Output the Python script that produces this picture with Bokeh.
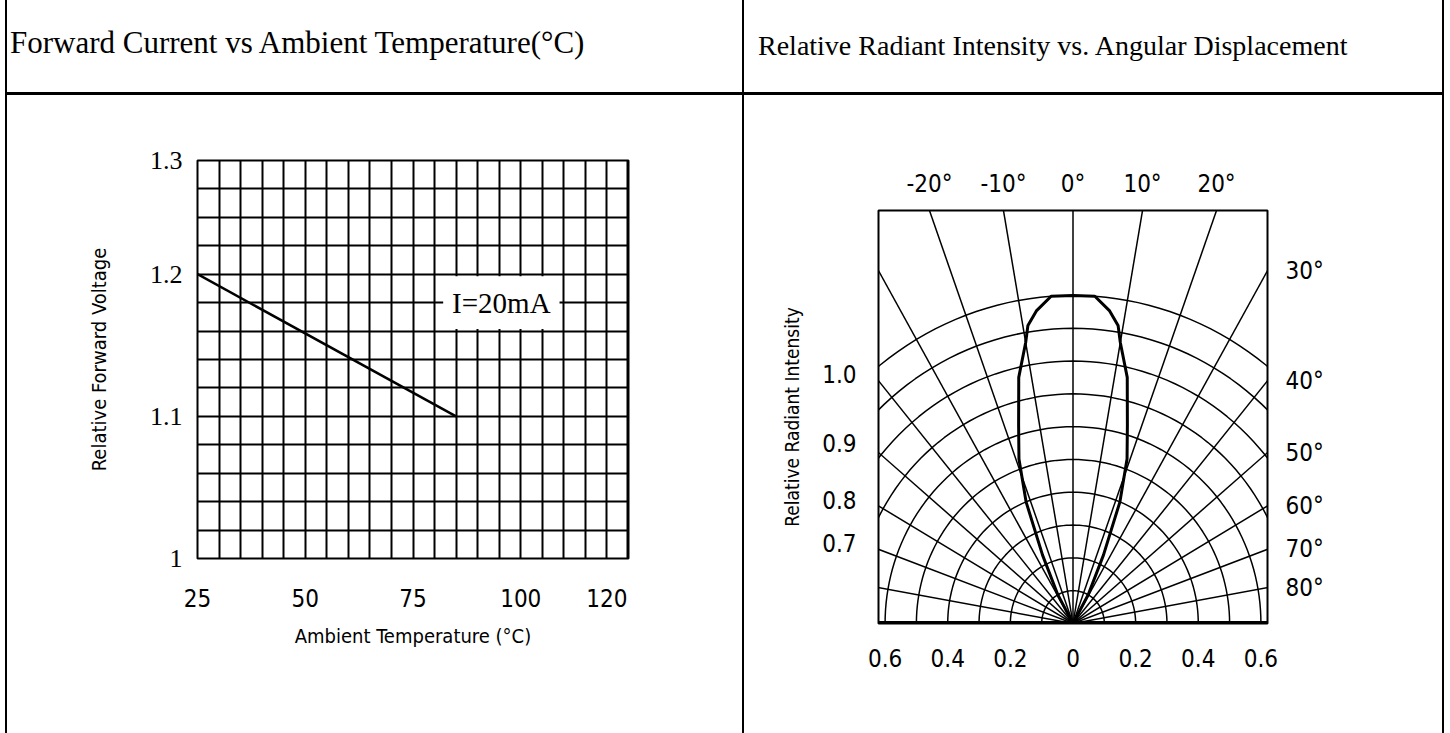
import math
from bokeh.plotting import figure
from bokeh.models import Range1d, FixedTicker, LinearAxis, Span, Div
from bokeh.layouts import row, column
from bokeh.embed import file_html
from bokeh.resources import INLINE
from bokeh.core.properties import value

# ---------------- data ----------------
header_left = "Forward Current vs Ambient Temperature(°C)"
header_right = "Relative Radiant Intensity vs. Angular Displacement"

# chart 1: relative forward voltage vs ambient temperature
temp_ticks = [25, 50, 75, 100, 120]
temp_min, temp_max, temp_step = 25, 125, 5
volt_ticks = [1.0, 1.1, 1.2, 1.28]
volt_labels = ["1", "1.1", "1.2", "1.3"]
volt_min, volt_max, volt_step = 1.0, 1.28, 0.02
line_temp = [25, 85]
line_volt = [1.2, 1.1]
note_text = "I=20mA"
note_temp = [82, 109]
note_volt = [1.1615, 1.1985]

# chart 2: relative radiant intensity vs angular displacement
pattern_angle = [0, 4, 7, 9, 10, 13, 16, 19, 22, 25, 29, 30]
pattern_intensity = [1.0, 1.0, 0.96, 0.92, 0.87, 0.77, 0.63, 0.53, 0.40, 0.23, 0.10, 0.0]
ring_radii = [0.1, 0.2, 0.3, 0.4, 0.5, 0.6, 0.7, 0.8, 0.9, 1.0]
ray_angles = list(range(-90, 91, 10))
top_angles = [-20, -10, 0, 10, 20]
side_angles = [30, 40, 50, 60, 70, 80]
intensity_tick_pos = [0.76, 0.55, 0.375, 0.245]
intensity_labels = ["1.0", "0.9", "0.8", "0.7"]
width_ticks = [-0.6, -0.4, -0.2, 0.0, 0.2, 0.4, 0.6]
x_half, y_top = 0.621, 1.259

SERIF = "Liberation Serif"
NARROW = "DejaVu Sans Condensed"


def style_axis(ax, size, standoff, font=NARROW):
    ax.axis_line_color = None
    ax.major_tick_line_color = None
    ax.minor_tick_line_color = None
    ax.major_tick_out = 0
    ax.major_tick_in = 0
    ax.minor_tick_out = 0
    ax.major_label_text_font = font
    ax.major_label_text_font_size = size
    ax.major_label_text_color = "black"
    ax.major_label_standoff = standoff
    ax.axis_label_text_font = NARROW
    ax.axis_label_text_font_style = "normal"
    ax.axis_label_text_color = "black"


def header(txt, w, pad_left, pad_top, size):
    html = (f'<div style="font-family: \'{SERIF}\'; font-size: {size}px; line-height: {size}px; '
            f'color: black; white-space: nowrap; padding-left: {pad_left}px; '
            f'padding-top: {pad_top}px;">{txt}</div>')
    return Div(text=html, width=w, height=92, margin=0)


# ---------------- chart 1 ----------------
p1 = figure(width=735, height=638, x_range=Range1d(temp_min, temp_max),
            y_range=Range1d(volt_min, volt_max),
            min_border_left=190, min_border_right=114, min_border_top=65, min_border_bottom=175,
            toolbar_location=None, output_backend="svg")
p1.outline_line_color = "black"
p1.outline_line_width = 2
n_x = int(round((temp_max - temp_min) / temp_step))
n_y = int(round((volt_max - volt_min) / volt_step))
p1.xgrid.ticker = FixedTicker(ticks=[temp_min + temp_step * i for i in range(n_x + 1)])
p1.ygrid.ticker = FixedTicker(ticks=[round(volt_min + volt_step * i, 3) for i in range(n_y + 1)])
p1.grid.grid_line_color = "black"
p1.grid.grid_line_width = 2
p1.grid.grid_line_alpha = 1

p1.xaxis.ticker = FixedTicker(ticks=temp_ticks, minor_ticks=[])
p1.yaxis.ticker = FixedTicker(ticks=volt_ticks, minor_ticks=[])
p1.yaxis.major_label_overrides = dict(zip(volt_ticks, volt_labels))
p1.xaxis.axis_label = "Ambient Temperature (°C)"
p1.yaxis.axis_label = "Relative Forward Voltage"
style_axis(p1.xaxis[0], "24px", 30)
style_axis(p1.yaxis[0], "26px", 15, SERIF)
p1.xaxis.axis_label_text_font_size = "20px"
p1.yaxis.axis_label_text_font_size = "20px"
p1.xaxis.axis_label_standoff = 14
p1.yaxis.axis_label_standoff = 36

p1.quad(left=[note_temp[0]], right=[note_temp[1]], bottom=[note_volt[0]], top=[note_volt[1]],
        fill_color="white", line_color=None)
p1.text(x=[sum(note_temp) / 2], y=[sum(note_volt) / 2], text=[note_text],
        text_font=value(SERIF), text_font_size="29px", text_align="center",
        text_baseline="middle", text_color="black")
p1.line(line_temp, line_volt, line_width=2.5, line_color="black")
p1.add_layout(Span(location=temp_max, dimension="height", line_color="black", line_width=4))

# ---------------- chart 2 ----------------
p2 = figure(width=698, height=638, x_range=Range1d(-x_half, x_half), y_range=Range1d(0, y_top),
            min_border_left=134, min_border_right=175, min_border_top=115, min_border_bottom=110,
            toolbar_location=None, output_backend="svg")
p2.grid.visible = False
p2.outline_line_color = "black"
p2.outline_line_width = 2

phi = [math.radians(a) for a in range(-90, 91, 2)]
p2.multi_line(xs=[[r * math.sin(t) for t in phi] for r in ring_radii],
              ys=[[r * math.cos(t) for t in phi] for r in ring_radii],
              line_color="black", line_width=1.5)
p2.segment(x0=[0] * len(ray_angles), y0=[0] * len(ray_angles),
           x1=[2 * math.sin(math.radians(a)) for a in ray_angles],
           y1=[2 * math.cos(math.radians(a)) for a in ray_angles],
           line_color="black", line_width=1.5)

ang = [-a for a in reversed(pattern_angle)] + pattern_angle[1:]
inten = list(reversed(pattern_intensity)) + pattern_intensity[1:]
p2.line([r * math.sin(math.radians(a)) for a, r in zip(ang, inten)],
        [r * math.cos(math.radians(a)) for a, r in zip(ang, inten)],
        line_color="black", line_width=3)
p2.add_layout(Span(location=0, dimension="width", line_color="black", line_width=5))

p2.xaxis.ticker = FixedTicker(ticks=width_ticks, minor_ticks=[])
p2.xaxis.major_label_overrides = {v: f"{abs(v):g}" for v in width_ticks}
p2.yaxis.ticker = FixedTicker(ticks=intensity_tick_pos, minor_ticks=[])
p2.yaxis.major_label_overrides = dict(zip(intensity_tick_pos, intensity_labels))
p2.yaxis.axis_label = "Relative Radiant Intensity"
style_axis(p2.xaxis[0], "24px", 25)
style_axis(p2.yaxis[0], "24px", 22)
p2.yaxis.axis_label_text_font_size = "19px"
p2.yaxis.axis_label_standoff = 16

top_pos = [round(y_top * math.tan(math.radians(a)), 5) for a in top_angles]
ax_top = LinearAxis(ticker=FixedTicker(ticks=top_pos, minor_ticks=[]),
                    major_label_overrides={p: f"{a}°" for p, a in zip(top_pos, top_angles)})
style_axis(ax_top, "24px", 13)
p2.add_layout(ax_top, "above")

side_pos = [round(x_half / math.tan(math.radians(a)), 5) for a in side_angles]
ax_right = LinearAxis(ticker=FixedTicker(ticks=side_pos, minor_ticks=[]),
                      major_label_overrides={p: f"{a}°" for p, a in zip(side_pos, side_angles)})
style_axis(ax_right, "24px", 18)
p2.add_layout(ax_right, "right")

# ---------------- table layout ----------------
h1 = header(header_left, 735, 3, 27, 31)
h2 = header(header_right, 698, 14, 32, 28)


def bar(w, h, color="black"):
    return Div(text="", width=w, height=h, margin=0, styles={"background-color": color})


left_col = column(h1, bar(735, 3), p1, spacing=0)
right_col = column(h2, bar(698, 3), p2, spacing=0)
layout = row(bar(5, 733, "white"), bar(2, 733), left_col, bar(2, 733), right_col, bar(2, 733),
             spacing=0)

open("out.html", "w").write(file_html(layout, INLINE))
